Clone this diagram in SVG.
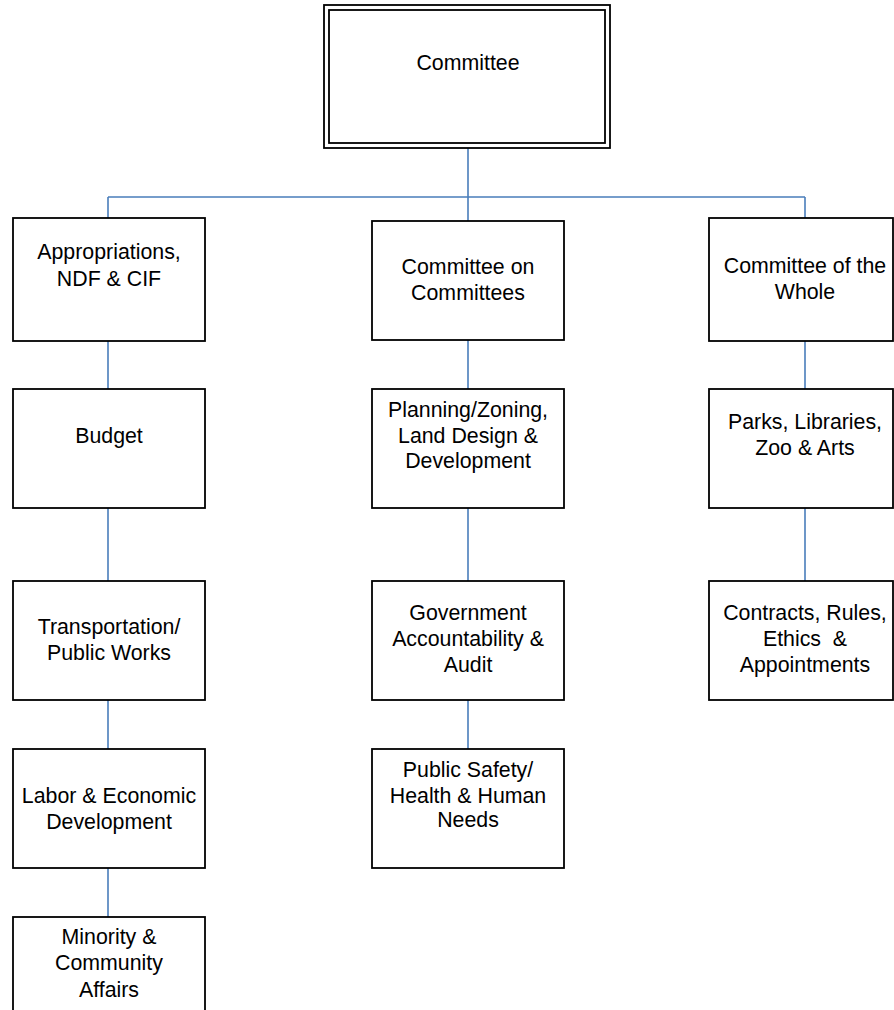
<svg xmlns="http://www.w3.org/2000/svg" width="894" height="1010" viewBox="0 0 894 1010">
<style>
.box{fill:#fff;stroke:#000;stroke-width:1.8}
.lbl{font-family:"Liberation Sans",Arial,sans-serif;font-size:21.33px;fill:#000;text-anchor:middle}
.con{fill:none;stroke:#4a7ebb;stroke-width:1.6}
</style>
<rect width="894" height="1010" fill="#fff"/>
<g id="connectors">
<path class="con" d="M468 148V197M108 197H805M108 197V218M468 197V221M805 197V218"/>
<path class="con" d="M108 341V389M108 508V581M108 700V749M108 868V917"/>
<path class="con" d="M468 340V389M468 508V581M468 700V749"/>
<path class="con" d="M805 341V389M805 508V581"/>
</g>
<g id="committee">
<rect class="box" x="324" y="5" width="286" height="143"/>
<rect class="box" x="329" y="10" width="276" height="133"/>
<text class="lbl" x="468" y="70">Committee</text>
</g>
<g id="appropriations">
<rect class="box" x="13" y="218" width="192" height="123"/>
<text class="lbl" x="109" y="259">Appropriations,</text>
<text class="lbl" x="109" y="285.5">NDF &amp; CIF</text>
</g>
<g id="committee-on-committees">
<rect class="box" x="372" y="221" width="192" height="119"/>
<text class="lbl" x="468" y="274">Committee on</text>
<text class="lbl" x="468" y="300">Committees</text>
</g>
<g id="committee-of-the-whole">
<rect class="box" x="709" y="218" width="184" height="123"/>
<text class="lbl" x="805" y="272.7">Committee of the</text>
<text class="lbl" x="805" y="299.3">Whole</text>
</g>
<g id="budget">
<rect class="box" x="13" y="389" width="192" height="119"/>
<text class="lbl" x="109" y="442.7">Budget</text>
</g>
<g id="planning">
<rect class="box" x="372" y="389" width="192" height="119"/>
<text class="lbl" x="468" y="416.7">Planning/Zoning,</text>
<text class="lbl" x="468" y="442.5">Land Design &amp;</text>
<text class="lbl" x="468" y="467.7">Development</text>
</g>
<g id="parks">
<rect class="box" x="709" y="389" width="184" height="119"/>
<text class="lbl" x="805" y="429.3">Parks, Libraries,</text>
<text class="lbl" x="805" y="455">Zoo &amp; Arts</text>
</g>
<g id="transportation">
<rect class="box" x="13" y="581" width="192" height="119"/>
<text class="lbl" x="109" y="634">Transportation/</text>
<text class="lbl" x="109" y="660">Public Works</text>
</g>
<g id="government">
<rect class="box" x="372" y="581" width="192" height="119"/>
<text class="lbl" x="468" y="620">Government</text>
<text class="lbl" x="468" y="646">Accountability &amp;</text>
<text class="lbl" x="468" y="671.7">Audit</text>
</g>
<g id="contracts">
<rect class="box" x="709" y="581" width="184" height="119"/>
<text class="lbl" x="805" y="620">Contracts, Rules,</text>
<text class="lbl" x="805" y="645.5" xml:space="preserve">Ethics  &amp;</text>
<text class="lbl" x="805" y="671.7">Appointments</text>
</g>
<g id="labor">
<rect class="box" x="13" y="749" width="192" height="119"/>
<text class="lbl" x="109" y="802.7">Labor &amp; Economic</text>
<text class="lbl" x="109" y="828.5">Development</text>
</g>
<g id="public-safety">
<rect class="box" x="372" y="749" width="192" height="119"/>
<text class="lbl" x="468" y="776.7">Public Safety/</text>
<text class="lbl" x="468" y="802.5">Health &amp; Human</text>
<text class="lbl" x="468" y="827">Needs</text>
</g>
<g id="minority">
<rect class="box" x="13" y="917" width="192" height="110"/>
<text class="lbl" x="109" y="944">Minority &amp;</text>
<text class="lbl" x="109" y="970">Community</text>
<text class="lbl" x="109" y="996.7">Affairs</text>
</g>
</svg>
